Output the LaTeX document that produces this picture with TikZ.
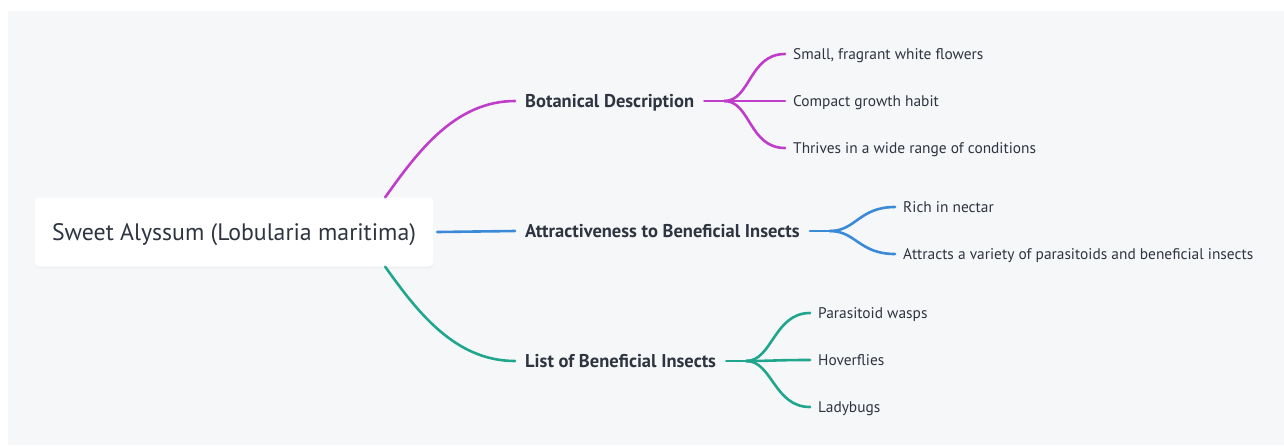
\documentclass[tikz,border=0pt]{standalone}
\usepackage{fontspec}
\setmainfont{PT Sans}
\usepackage{tikz}
\usetikzlibrary{shadows}
\definecolor{bgray}{HTML}{F6F7F9}
\definecolor{inkdark}{HTML}{2E3440}
\definecolor{botmag}{HTML}{C03DCB}
\definecolor{attblue}{HTML}{3A8AD8}
\definecolor{listteal}{HTML}{21A68E}

\begin{document}
\begin{tikzpicture}[
      x=1pt,y=-1pt,
      rootbox/.style={fill=white,rounded corners=4pt,minimum width=398pt,minimum height=69pt,
        text depth=0pt,font=\fontsize{23.8}{27}\selectfont,text=inkdark,
        drop shadow={opacity=0.06,shadow xshift=0pt,shadow yshift=-2pt}},
      branch/.style={anchor=west,inner xsep=10pt,inner ysep=2pt,text depth=0pt,
        font=\fontsize{18.5}{21}\selectfont\bfseries,text=inkdark},
      leaf/.style={anchor=west,inner xsep=8pt,inner ysep=2pt,text depth=0pt,
        font=\fontsize{15.4}{18}\selectfont,text=inkdark},
      link/.style={line width=2.6pt,line cap=round}
    ]
    \useasboundingbox (0,0) rectangle (1284,445);
    \fill[bgray] (8,11) rectangle (1284,445);

    \node[rootbox] (root) at (234,232) {Sweet Alyssum (Lobularia maritima)};

    % main branches
    \node[branch] (bot) at (515,101) {Botanical Description};
    \node[branch] (attr) at (515,231) {Attractiveness to Beneficial Insects};
    \node[branch] (list) at (515,361) {List of Beneficial Insects};

    \draw[link,botmag] ([xshift=-48pt]root.north east) .. controls +(32,-45) and +(-60,0) .. (bot.west);
    \draw[link,attblue] ([xshift=4pt]root.east) -- (attr.west);
    \draw[link,listteal] ([xshift=-48pt]root.south east) .. controls +(32,45) and +(-60,0) .. (list.west);

    % leaves
    \node[leaf] (b1) at (785,54) {Small, fragrant white flowers};
    \node[leaf] (b2) at (785,101) {Compact growth habit};
    \node[leaf] (b3) at (785,148) {Thrives in a wide range of conditions};
    \node[leaf] (a1) at (895,207) {Rich in nectar};
    \node[leaf] (a2) at (895,254) {Attracts a variety of parasitoids and beneficial insects};
    \node[leaf] (l1) at (810,313) {Parasitoid wasps};
    \node[leaf] (l2) at (810,360) {Hoverflies};
    \node[leaf] (l3) at (810,407) {Ladybugs};

    \coordinate (bj) at ([xshift=20pt]bot.east);
    \coordinate (aj) at ([xshift=20pt]attr.east);
    \coordinate (lj) at ([xshift=20pt]list.east);

    \draw[link,botmag] (bot.east) -- (bj);
    \foreach \n in {b1,b2,b3}
      \draw[link,botmag] (bj) .. controls +(26,0) and +(-36,0) .. (\n.west);
    \draw[link,attblue] (attr.east) -- (aj);
    \foreach \n in {a1,a2}
      \draw[link,attblue] (aj) .. controls +(26,0) and +(-36,0) .. (\n.west);
    \draw[link,listteal] (list.east) -- (lj);
    \foreach \n in {l1,l2,l3}
      \draw[link,listteal] (lj) .. controls +(26,0) and +(-36,0) .. (\n.west);
  \end{tikzpicture}
\end{document}
